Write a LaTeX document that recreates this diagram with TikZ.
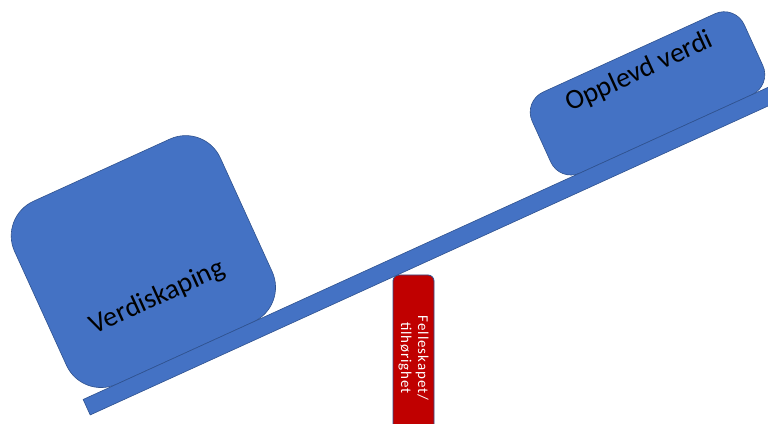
\documentclass[tikz,border=0pt]{standalone}
\usepackage{fontspec}
\setmainfont{Carlito}
\definecolor{boxblue}{HTML}{4472C4}
\definecolor{edgeblue}{HTML}{2F528F}
\definecolor{pillarred}{HTML}{C00000}
\begin{document}
\begin{tikzpicture}[x=1pt,y=1pt,
  weight/.style={fill=boxblue,draw=edgeblue,line width=0.6pt},
  plankstyle/.style={fill=boxblue,draw=edgeblue,line width=0.6pt},
  pillar/.style={fill=pillarred,draw=edgeblue,line width=0.8pt,rounded corners=6pt},
  boxtext/.style={font=\fontsize{28}{33}\selectfont,text=black,inner sep=0pt},
  pillartext/.style={font=\fontsize{15}{17}\selectfont\addfontfeatures{LetterSpace=6},text=white,align=center,inner sep=0pt}]
\clip (0,0) rectangle (768,423);
\fill[white] (0,0) rectangle (768,423);
% pillar
\draw[pillar] (393,-20) rectangle (434,148);
\node[pillartext,rotate=-90] (ptext) at (413.5,65) {Felleskapet/\\tilhørighet};
\begin{scope}[shift={(0,423)},rotate=24.5]
  % weights
  \draw[weight,rounded corners=38pt] (-91,-398) rectangle (135,-197);
  \draw[weight,rounded corners=22pt] (434,-398) rectangle (667,-309);
  % plank
  \draw[plankstyle] (-90,-415) rectangle (720,-398);
  \node[boxtext,rotate=24.5] (vk) at (20,-336) {Verdiskaping};
  \node[boxtext,rotate=24.5] (ov) at (552,-331) {Opplevd verdi};
\end{scope}
\end{tikzpicture}
\end{document}
